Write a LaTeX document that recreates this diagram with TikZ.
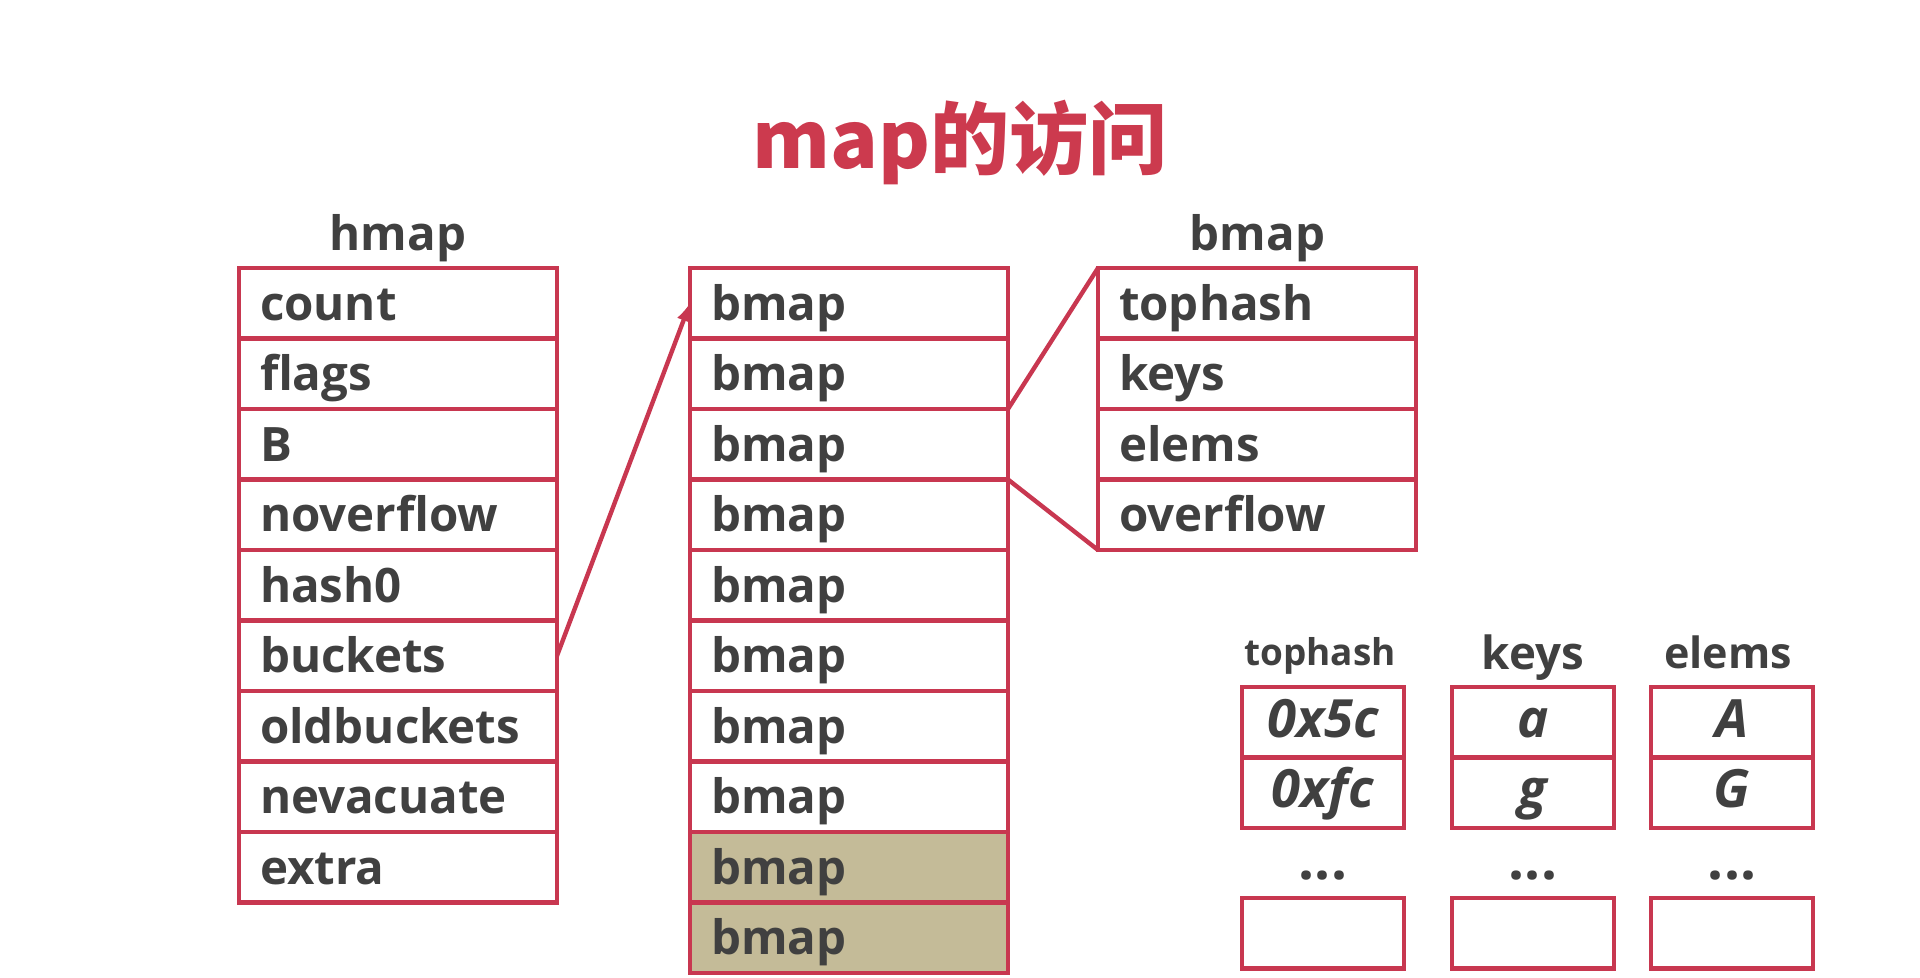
\documentclass[tikz,border=0pt]{standalone}
\usepackage{fontspec}
\setmainfont{Open Sans}
\newfontfamily\cjk{Noto Sans CJK SC}
\usetikzlibrary{positioning}
\definecolor{mapred}{RGB}{200,55,80}
\definecolor{titlered}{RGB}{204,58,78}
\definecolor{txtgray}{RGB}{64,64,64}
\definecolor{maptan}{RGB}{196,187,152}

\begin{document}
\begin{tikzpicture}[>=latex,
  cell/.style={draw=mapred, line width=2.5pt, outer sep=0pt, inner xsep=0.42cm, inner ysep=0pt,
    text width=5.52cm, align=left, minimum height=1.41cm, text height=0.78cm, text depth=0.11cm,
    font=\fontsize{27}{30}\selectfont\bfseries, text=txtgray},
  slot/.style={draw=mapred, line width=2.5pt, outer sep=0pt, inner sep=0pt, text width=3.24cm,
    align=center, minimum height=1.41cm, text height=0.72cm, text depth=0.13cm,
    font=\fontsize{30}{33}\selectfont\bfseries\itshape, text=txtgray},
  head/.style={text=txtgray, font=\fontsize{27}{30}\selectfont\bfseries, anchor=base, inner sep=0pt},
  dots/.style={text=txtgray, font=\fontsize{32}{34}\selectfont\bfseries}]
\useasboundingbox (0,0) rectangle (38.4,-19.54);

% title
\node[anchor=base, text=titlered, font=\cjk\fontsize{45}{50}\selectfont\bfseries] (title) at (19.2,-3.36) {map的访问};

% hmap
\node[head] (hmaphd) at (7.96,-5.0) {hmap};
\node[cell, anchor=north west] (h1) at (4.78,-5.36) {count};
\foreach \txt [count=\i from 2] in {flags,B,noverflow,hash0,buckets,oldbuckets,nevacuate,extra}{
  \pgfmathtruncatemacro\prev{\i-1}
  \node[cell, below=0pt of h\prev] (h\i) {\txt};
}

% buckets array
\node[cell, anchor=north west] (b1) at (13.8,-5.36) {bmap};
\foreach \i in {2,...,8}{
  \pgfmathtruncatemacro\prev{\i-1}
  \node[cell, below=0pt of b\prev] (b\i) {bmap};
}
\node[cell, fill=maptan, below=0pt of b8] (b9) {bmap};
\node[cell, fill=maptan, below=0pt of b9] (b10) {bmap};
\draw[->, mapred, line width=2.5pt] (h6.east) -- (b1.west);

% bmap struct
\node[head] (bmaphd) at (25.15,-5.0) {bmap};
\node[cell, anchor=north west] (s1) at (21.96,-5.36) {tophash};
\node[cell, below=0pt of s1] (s2) {keys};
\node[cell, below=0pt of s2] (s3) {elems};
\node[cell, below=0pt of s3] (s4) {overflow};
\draw[mapred, line width=2.5pt] (b3.north east) -- (s1.north west);
\draw[mapred, line width=2.5pt] (b3.south east) -- (s4.south west);

% tophash / keys / elems
\node[head, font=\fontsize{21}{24}\selectfont\bfseries] (thd) at (26.4,-13.3) {tophash};
\node[head, font=\fontsize{26}{28}\selectfont\bfseries] (khd) at (30.66,-13.38) {keys};
\node[head, font=\fontsize{24.5}{27}\selectfont\bfseries] (ehd) at (34.56,-13.36) {elems};
\node[slot, anchor=north west] (t1) at (24.84,-13.74) {0x5c};
\node[slot, below=0pt of t1] (t2) {0xfc};
\node[slot, anchor=north west] (k1) at (29.04,-13.74) {a};
\node[slot, below=0pt of k1] (k2) {g};
\node[slot, anchor=north west] (e1) at (33.02,-13.74) {A};
\node[slot, below=0pt of e1] (e2) {G};
\node[dots] (tdots) at (26.46,-17.52) {...};
\node[dots] (kdots) at (30.66,-17.52) {...};
\node[dots] (edots) at (34.64,-17.52) {...};
\node[slot, anchor=north west] (t3) at (24.84,-17.96) {};
\node[slot, anchor=north west] (k3) at (29.04,-17.96) {};
\node[slot, anchor=north west] (e3) at (33.02,-17.96) {};
\end{tikzpicture}
\end{document}
